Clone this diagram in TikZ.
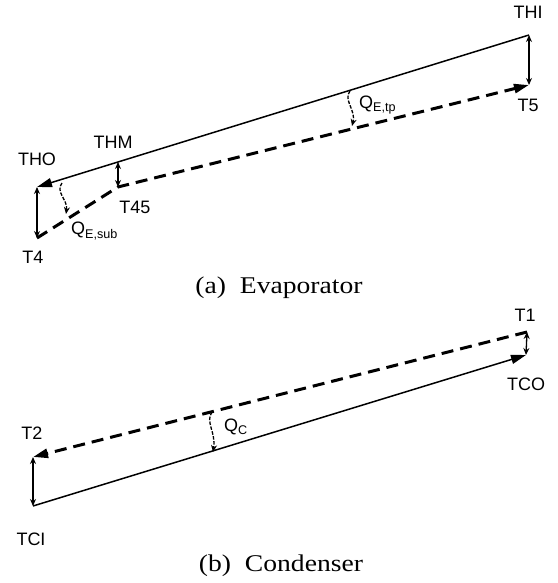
\documentclass[tikz,border=0pt]{standalone}
\usepackage{fontspec}
\setmainfont{Liberation Serif}
\newfontfamily\lblfont{Liberation Sans}
\usetikzlibrary{arrows.meta}
\begin{document}
\begin{tikzpicture}[x=1pt,y=-1pt,
  lbl/.style={font=\lblfont\fontsize{18}{20}\selectfont, inner sep=0pt},
  captext/.style={font=\fontsize{24}{26}\selectfont, inner sep=0pt},
  hot/.style={line width=1.5pt},
  cold/.style={line width=3pt, dash pattern=on 12pt off 7pt},
  bigtip/.style={-{Triangle[length=15pt,width=9pt]}},
  dbl/.style={line width=1.3pt, {Stealth[length=7pt,width=6pt]}-{Stealth[length=7pt,width=6pt]}},
  heat/.style={line width=1.3pt, dash pattern=on 3.5pt off 1.5pt, -{Stealth[length=7pt,width=6pt]}}]
\useasboundingbox (0,0) rectangle (557,583);
% ---------- Evaporator ----------
\coordinate (THI) at (529,35);
\coordinate (T5) at (529,85);
\coordinate (THO) at (37,187);
\coordinate (T4) at (37,238);
\coordinate (T45) at (118,187);
\coordinate (THM) at (118,162);
\coordinate (qtpa) at (350,91);
\coordinate (qtpb) at (352,126);
\coordinate (qsba) at (62,183);
\coordinate (qsbb) at (66,214);

\draw[hot,bigtip] (THI) -- (THO);
\draw[cold,bigtip] (T4) -- (T45) -- (T5);
\draw[dbl] (THI) -- (T5);
\draw[dbl] (THO) -- (T4);
\draw[dbl] (THM) -- (T45);
\draw[heat] (qtpa) .. controls (343,100) and (356,110) .. (qtpb);
\draw[heat] (qsba) .. controls (55,192) and (68,200) .. (qsbb);

\node[lbl] (lTHI) at (528,12) {THI};
\node[lbl] (lT5) at (528,105) {T5};
\node[lbl] (lTHO) at (37,159) {THO};
\node[lbl] (lTHM) at (113,142) {THM};
\node[lbl] (lT45) at (135,207) {T45};
\node[lbl] (lT4) at (33,257) {T4};
\node[lbl,anchor=west] (lQsub) at (71,231) {Q\textsubscript{E,sub}};
\node[lbl,anchor=west] (lQtp) at (359,105) {Q\textsubscript{E,tp}};
\node[captext] (capa) at (279,288) {\scalebox{1.15}[1]{(a)\ \ Evaporator}};

% ---------- Condenser ----------
\coordinate (T1) at (527,332);
\coordinate (TCO) at (526,355);
\coordinate (T2) at (33,457);
\coordinate (TCI) at (33,506);
\coordinate (qca) at (212,412);
\coordinate (qcb) at (213,452);

\draw[cold,bigtip] (T1) -- (T2);
\draw[hot,bigtip] (TCI) -- (TCO);
\draw[dbl] (T1) -- (TCO);
\draw[dbl] (T2) -- (TCI);
\draw[heat] (qca) .. controls (205,422) and (216,432) .. (qcb);

\node[lbl] (lT1) at (525,315) {T1};
\node[lbl] (lTCO) at (526,384) {TCO};
\node[lbl] (lT2) at (32,433) {T2};
\node[lbl] (lTCI) at (31,539) {TCI};
\node[lbl,anchor=west] (lQc) at (224,427) {Q\textsubscript{C}};
\node[captext] (capb) at (281,566) {\scalebox{1.15}[1]{(b)\ \ Condenser}};
\end{tikzpicture}
\end{document}
